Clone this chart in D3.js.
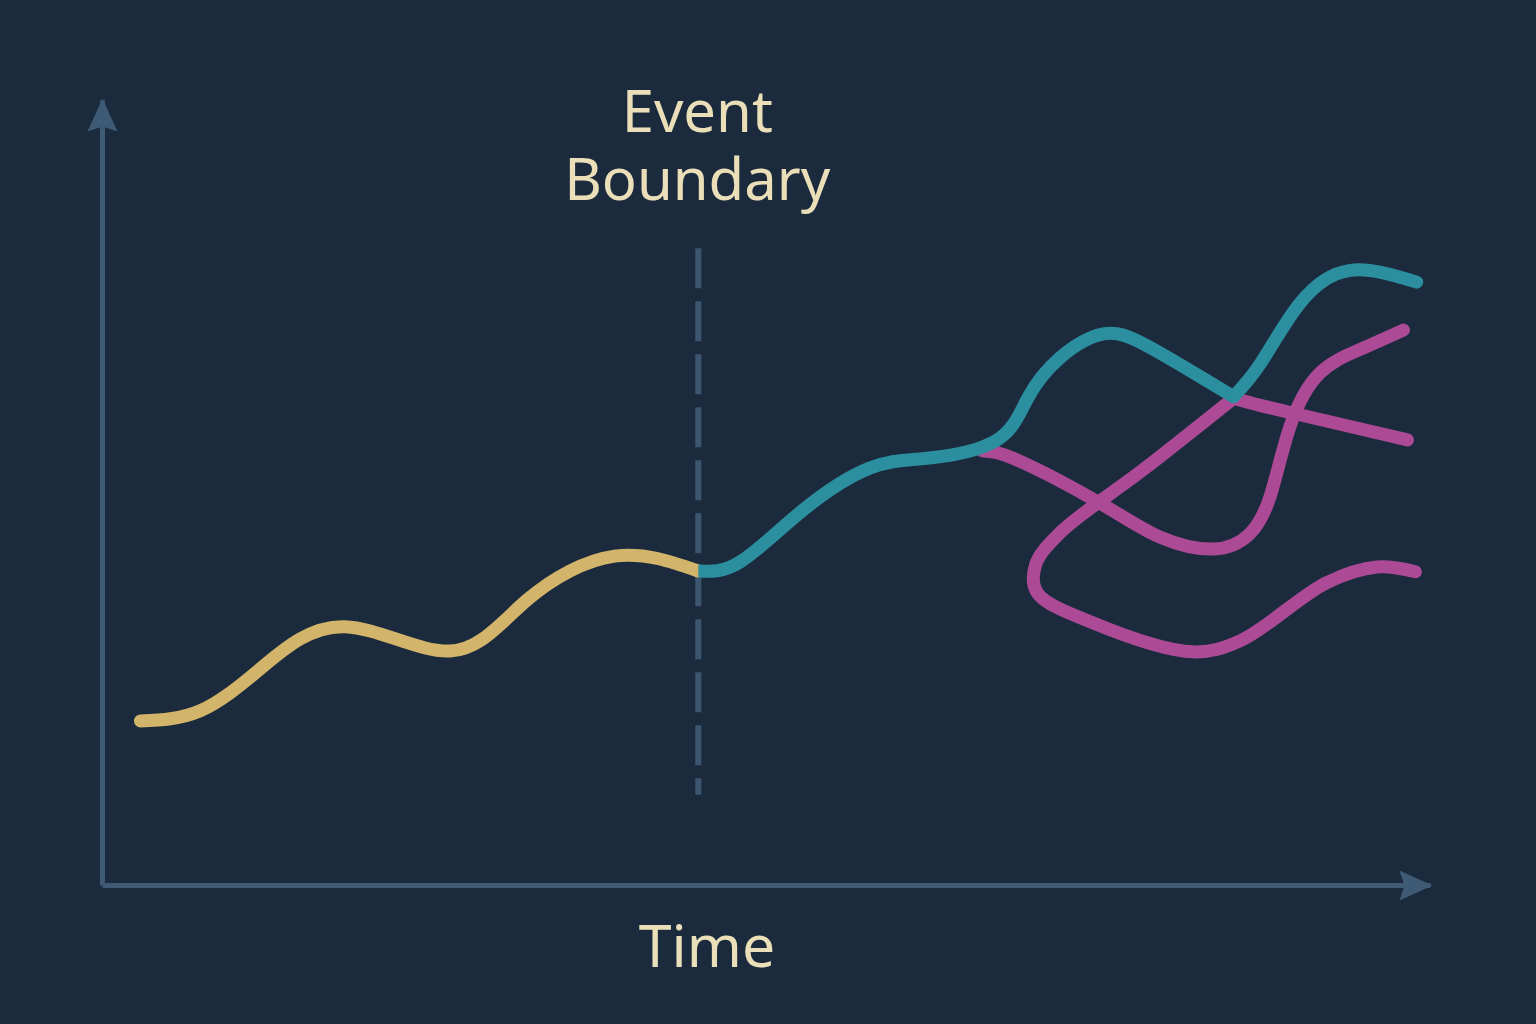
<!DOCTYPE html>
<html>
<head>
<meta charset="utf-8">
<script src="https://d3js.org/d3.v7.min.js"></script>
<style>
  html, body { margin: 0; padding: 0; background: #1b2b3d; }
  svg { display: block; }
</style>
</head>
<body>
<div id="DataContent"></div>
<script>
var width = 1536,
    height = 1024;

// time / value pairs (time 0..10, value 0..10)
var beforeTime  = [0.29, 0.74, 1.21, 1.83, 2.62, 3.20, 3.86, 4.49];
var beforeValue = [2.09, 2.22, 2.78, 3.29, 2.98, 3.63, 4.19, 4.00];

var afterTime  = [4.49, 4.80, 5.26, 5.78, 6.23, 6.74, 6.97, 7.21, 7.54, 7.89, 8.52, 8.73, 9.02, 9.40, 9.90];
var afterValue = [4.00, 4.11, 4.75, 5.31, 5.44, 5.67, 6.20, 6.71, 7.02, 6.85, 6.22, 6.66, 7.41, 7.83, 7.68];

var branchATime  = [6.63, 6.91, 7.54, 7.97, 8.37, 8.64, 8.80, 8.95, 9.17, 9.47, 9.80];
var branchAValue = [5.53, 5.40, 4.84, 4.43, 4.28, 4.47, 4.97, 5.86, 6.52, 6.82, 7.07];

var branchBTime  = [8.52, 8.72, 8.97, 9.35, 9.83];
var branchBValue = [6.20, 6.11, 6.01, 5.86, 5.67];

var branchCTime  = [8.52, 7.84, 7.21, 7.03, 7.04, 7.46, 8.22, 8.57, 9.22, 9.60, 9.89];
var branchCValue = [6.20, 5.29, 4.48, 4.08, 3.73, 3.34, 2.97, 3.11, 3.85, 4.05, 3.99];

var eventTime = 4.49,
    splitTime = 8.52,
    eventSpan = [1.15, 8.11];

var labels = { event: ['Event', 'Boundary'], x: 'Time' };

function pairs(t, v) {
    return t.map(function(d, i) { return {x: d, y: v[i]}; });
}

var xScale = d3.scaleLinear()
    .domain([0, 10])
    .range([102, 1430]);

var yScale = d3.scaleLinear()
    .domain([0, 10])
    .range([885, 100]);

var svg = d3.select('#DataContent')
    .append('svg')
    .attr('width', width)
    .attr('height', height);

svg.append('rect')
    .attr('width', width)
    .attr('height', height)
    .attr('fill', '#1b2b3d');

var defs = svg.append('defs');

defs.append('marker')
    .attr('id', 'arrow')
    .attr('markerUnits', 'userSpaceOnUse')
    .attr('viewBox', '-36 -18 40 36')
    .attr('markerWidth', 40)
    .attr('markerHeight', 36)
    .attr('refX', 0)
    .attr('refY', 0)
    .attr('orient', 'auto')
  .append('path')
    .attr('d', 'M2,0L-31,-15L-26,0L-31,15Z')
    .attr('fill', '#3e5a75');

defs.append('clipPath')
    .attr('id', 'afterClip')
  .append('rect')
    .attr('x', xScale(eventTime))
    .attr('y', 0)
    .attr('width', width)
    .attr('height', height);

// axes: domain line only, arrow at the end
var xAxis = d3.axisBottom(xScale).tickValues([]).tickSizeOuter(0);
var yAxis = d3.axisLeft(yScale).tickValues([]).tickSizeOuter(0);

svg.append('g')
    .attr('class', 'axis')
    .attr('transform', 'translate(0,' + yScale(0) + ')')
    .call(xAxis);

svg.append('g')
    .attr('class', 'axis')
    .attr('transform', 'translate(' + xScale(0) + ',0)')
    .call(yAxis);

svg.selectAll('.axis .domain')
    .attr('stroke', '#3e5a75')
    .attr('stroke-width', 5)
    .attr('marker-end', 'url(#arrow)');

// event boundary
svg.append('line')
    .attr('x1', xScale(eventTime))
    .attr('x2', xScale(eventTime))
    .attr('y1', yScale(eventSpan[1]))
    .attr('y2', yScale(eventSpan[0]))
    .attr('stroke', '#3d5670')
    .attr('stroke-width', 6)
    .attr('stroke-dasharray', '40,13');

var smoothLine = d3.line()
    .curve(d3.curveNatural)
    .x(function(d) { return xScale(d.x); })
    .y(function(d) { return yScale(d.y); });

// the looping branch goes back in time, so it needs a parametric curve
var loopLine = d3.line()
    .curve(d3.curveCatmullRom.alpha(0.5))
    .x(function(d) { return xScale(d.x); })
    .y(function(d) { return yScale(d.y); });

function drawLine(d, colour, clip) {
    var p = svg.append('path')
        .attr('d', d)
        .attr('fill', 'none')
        .attr('stroke', colour)
        .attr('stroke-width', 13)
        .attr('stroke-linecap', 'round')
        .attr('stroke-linejoin', 'round');
    if (clip) p.attr('clip-path', 'url(#' + clip + ')');
    return p;
}

var after = pairs(afterTime, afterValue);

drawLine(smoothLine(pairs(branchATime, branchAValue)), '#ad4a95');
drawLine(loopLine(pairs(branchCTime, branchCValue)), '#ad4a95');
drawLine(smoothLine(pairs(branchBTime, branchBValue)), '#ad4a95');
drawLine(smoothLine(pairs(beforeTime, beforeValue)), '#d2b56a');
// teal has a sharp corner where the branches split off
drawLine(smoothLine(after.filter(function(d) { return d.x <= splitTime; })), '#2c8f9f', 'afterClip');
drawLine(smoothLine(after.filter(function(d) { return d.x >= splitTime; })), '#2c8f9f');

// labels
var textColour = '#ebdfb9';

var eventLabel = svg.append('text')
    .attr('y', 132)
    .style('text-anchor', 'middle')
    .style('font-family', 'Noto Sans')
    .style('font-size', '58px')
    .attr('fill', textColour);

eventLabel.selectAll('tspan')
    .data(labels.event)
    .enter()
  .append('tspan')
    .attr('x', xScale(eventTime) - 1)
    .attr('dy', function(d, i) { return i ? 68 : 0; })
    .text(function(d) { return d; });

svg.append('text')
    .attr('x', 707)
    .attr('y', 967)
    .style('text-anchor', 'middle')
    .style('font-family', 'Noto Sans')
    .style('font-size', '59px')
    .attr('fill', textColour)
    .text(labels.x);
</script>
</body>
</html>
